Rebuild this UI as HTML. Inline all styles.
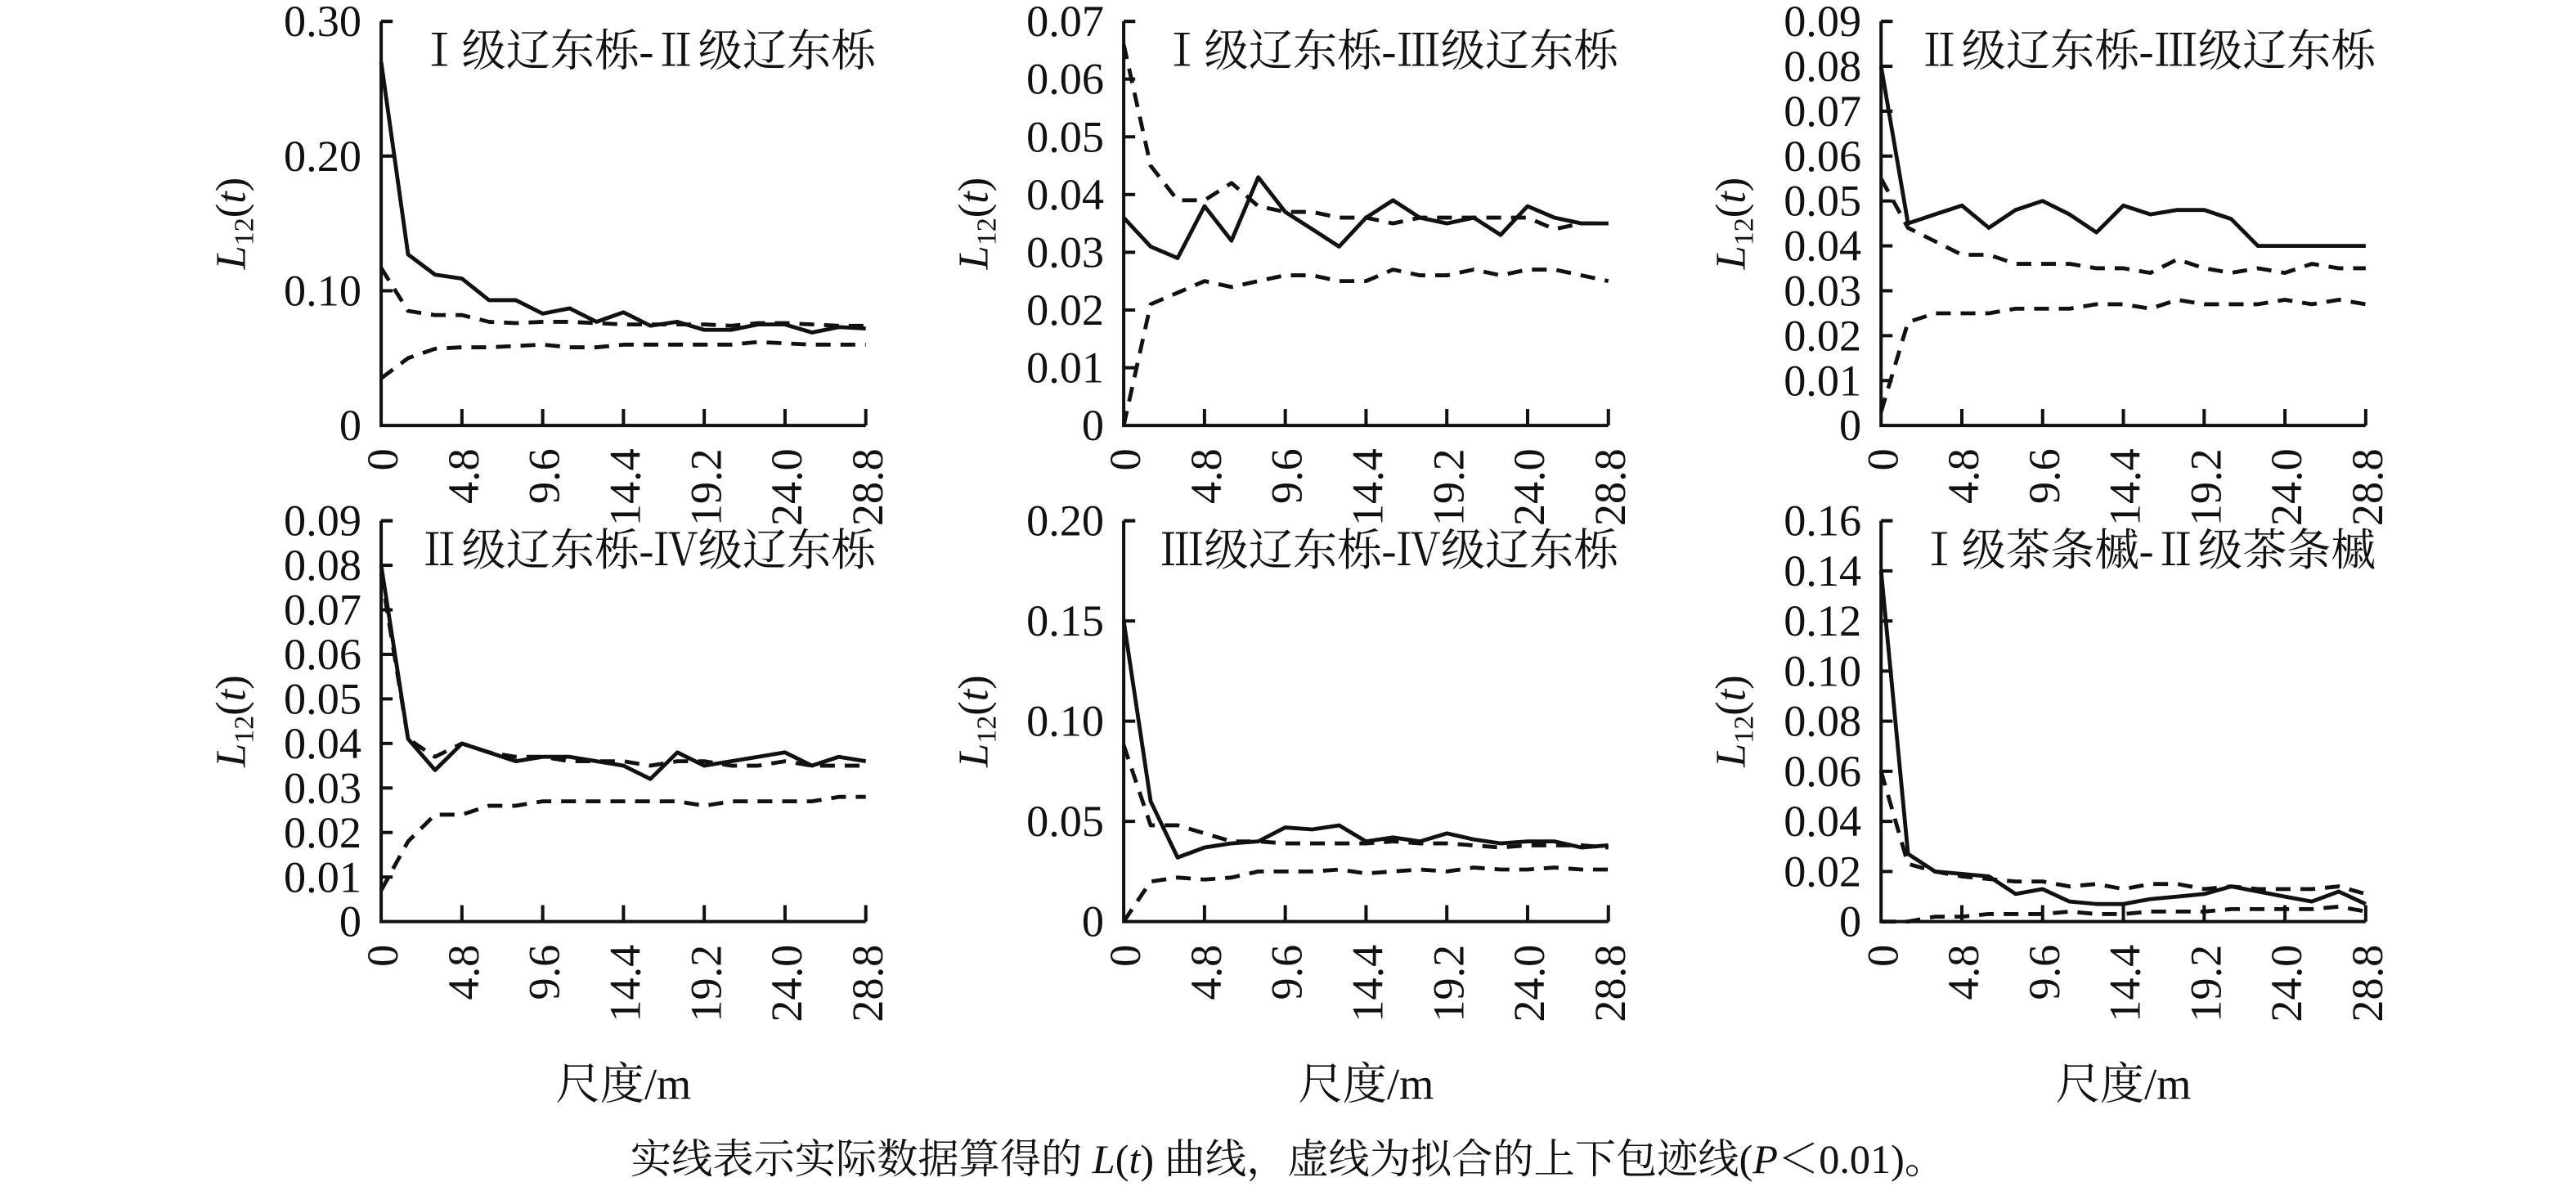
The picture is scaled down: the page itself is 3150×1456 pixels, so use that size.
<!DOCTYPE html>
<html><head><meta charset="utf-8">
<style>
html,body{margin:0;padding:0;background:#fff;}
svg{display:block;}
text{font-family:"Liberation Serif","Noto Serif CJK SC",serif;fill:#111;}
</style></head>
<body>
<svg id="s" width="3150" height="1456" viewBox="0 0 1568 725" preserveAspectRatio="none" xmlns="http://www.w3.org/2000/svg"></svg>
<script>
const P=[
{x:232,top:13,bot:259,max:0.30,ticks:[0,0.10,0.20,0.30],fmt:2,title:"Ⅰ级辽东栎-Ⅱ级辽东栎",
s:[0.27,0.127,0.112,0.109,0.093,0.093,0.083,0.087,0.077,0.084,0.074,0.077,0.071,0.071,0.075,0.075,0.069,0.073,0.072],
u:[0.117,0.085,0.082,0.082,0.077,0.076,0.077,0.077,0.076,0.075,0.075,0.075,0.075,0.074,0.076,0.076,0.075,0.074,0.074],
l:[0.035,0.05,0.057,0.058,0.058,0.059,0.06,0.058,0.058,0.06,0.06,0.06,0.06,0.06,0.062,0.061,0.06,0.06,0.06]},
{x:684,top:13,bot:259,max:0.07,ticks:[0,0.01,0.02,0.03,0.04,0.05,0.06,0.07],fmt:2,title:"Ⅰ级辽东栎-Ⅲ级辽东栎",
s:[0.036,0.031,0.029,0.038,0.032,0.043,0.037,0.034,0.031,0.036,0.039,0.036,0.035,0.036,0.033,0.038,0.036,0.035,0.035],
u:[0.066,0.045,0.039,0.039,0.042,0.038,0.037,0.037,0.036,0.036,0.035,0.036,0.036,0.036,0.036,0.036,0.034,0.035,0.035],
l:[0,0.021,0.023,0.025,0.024,0.025,0.026,0.026,0.025,0.025,0.027,0.026,0.026,0.027,0.026,0.027,0.027,0.026,0.025]},
{x:1145,top:13,bot:259,max:0.09,ticks:[0,0.01,0.02,0.03,0.04,0.05,0.06,0.07,0.08,0.09],fmt:2,title:"Ⅱ级辽东栎-Ⅲ级辽东栎",
s:[0.08,0.045,0.047,0.049,0.044,0.048,0.05,0.047,0.043,0.049,0.047,0.048,0.048,0.046,0.04,0.04,0.04,0.04,0.04],
u:[0.055,0.044,0.041,0.038,0.038,0.036,0.036,0.036,0.035,0.035,0.034,0.037,0.035,0.034,0.035,0.034,0.036,0.035,0.035],
l:[0.003,0.023,0.025,0.025,0.025,0.026,0.026,0.026,0.027,0.027,0.026,0.028,0.027,0.027,0.027,0.028,0.027,0.028,0.027]},
{x:232,top:317,bot:561,max:0.09,ticks:[0,0.01,0.02,0.03,0.04,0.05,0.06,0.07,0.08,0.09],fmt:2,title:"Ⅱ级辽东栎-Ⅳ级辽东栎",xl:1,
s:[0.08,0.041,0.034,0.04,0.038,0.036,0.037,0.037,0.036,0.035,0.032,0.038,0.035,0.036,0.037,0.038,0.035,0.037,0.036],
u:[0.078,0.041,0.037,0.04,0.038,0.037,0.037,0.036,0.036,0.036,0.035,0.036,0.036,0.035,0.035,0.036,0.035,0.035,0.035],
l:[0.007,0.018,0.024,0.024,0.026,0.026,0.027,0.027,0.027,0.027,0.027,0.027,0.026,0.027,0.027,0.027,0.027,0.028,0.028]},
{x:684,top:317,bot:561,max:0.20,ticks:[0,0.05,0.10,0.15,0.20],fmt:2,title:"Ⅲ级辽东栎-Ⅳ级辽东栎",xl:1,
s:[0.15,0.06,0.032,0.037,0.039,0.04,0.047,0.046,0.048,0.04,0.042,0.04,0.044,0.041,0.039,0.04,0.04,0.037,0.038],
u:[0.088,0.048,0.048,0.044,0.04,0.04,0.039,0.039,0.039,0.039,0.04,0.039,0.039,0.038,0.037,0.038,0.038,0.038,0.037],
l:[0,0.02,0.022,0.021,0.022,0.025,0.025,0.025,0.026,0.024,0.025,0.026,0.025,0.027,0.026,0.026,0.027,0.026,0.026]},
{x:1145,top:317,bot:561,max:0.16,ticks:[0,0.02,0.04,0.06,0.08,0.10,0.12,0.14,0.16],fmt:2,title:"Ⅰ级茶条槭-Ⅱ级茶条槭",xl:1,
s:[0.14,0.027,0.02,0.019,0.018,0.011,0.013,0.008,0.007,0.007,0.009,0.01,0.011,0.014,0.012,0.01,0.008,0.012,0.007],
u:[0.06,0.023,0.02,0.018,0.017,0.016,0.016,0.014,0.015,0.013,0.015,0.015,0.013,0.014,0.013,0.013,0.013,0.014,0.011],
l:[0,0,0.002,0.002,0.003,0.003,0.003,0.004,0.003,0.003,0.004,0.004,0.004,0.005,0.005,0.005,0.005,0.006,0.004]}
];
let h="";const W=295;
for(const p of P){
 const X=i=>p.x+W*i/18, Y=v=>p.bot-(p.bot-p.top)*v/p.max;
 h+=`<path d="M${p.x} ${p.top}H${p.x+7}M${p.x} ${p.top}V${p.bot}H${p.x+W}" fill="none" stroke="#111" stroke-width="2"/>`;
 for(const t of p.ticks){const y=Y(t);
  if(t>0)h+=`<line x1="${p.x}" y1="${y}" x2="${p.x+7}" y2="${y}" stroke="#111" stroke-width="2"/>`;
  h+=`<text x="${p.x-12}" y="${y+9}" font-size="27" text-anchor="end">${t==0?"0":t.toFixed(p.fmt)}</text>`;}
 const xl=["0","4.8","9.6","14.4","19.2","24.0","28.8"];
 for(let k=0;k<7;k++){const x=p.x+W*k/6;
  if(k>0)h+=`<line x1="${x}" y1="${p.bot}" x2="${x}" y2="${p.bot-10}" stroke="#111" stroke-width="2"/>`;
  h+=`<text transform="translate(${x+10},${p.bot+14}) rotate(-90)" font-size="27" text-anchor="end">${xl[k]}</text>`;}
 if(p.xl)h+=`<text x="${p.x+W/2}" y="${p.bot+108}" font-size="27" text-anchor="middle">尺度/m</text>`;
 const yc=(p.top+p.bot)/2;
 h+=`<text transform="translate(${p.x-83},${yc}) rotate(-90)" font-size="26" text-anchor="middle" font-style="italic">L<tspan font-size="17" font-style="normal" dy="5">12</tspan><tspan dy="-5" font-style="normal">(</tspan>t<tspan font-style="normal">)</tspan></text>`;
 h+=`<text x="${p.x+22}" y="${p.top+27}" font-size="27">${p.title}</text>`;
 const line=(a,d)=>`<polyline points="${a.map((v,i)=>X(i).toFixed(1)+","+Y(v).toFixed(1)).join(" ")}" fill="none" stroke="#111" stroke-width="2.4" ${d?'stroke-dasharray="9,6"':''} stroke-linejoin="round"/>`;
 h+=line(p.u,1)+line(p.l,1)+line(p.s,0);
}
h+=`<text x="784" y="714" font-size="25" text-anchor="middle">实线表示实际数据算得的 <tspan font-style="italic">L</tspan>(<tspan font-style="italic">t</tspan>) 曲线，虚线为拟合的上下包迹线(<tspan font-style="italic">P</tspan>＜0.01)。</text>`;
document.getElementById("s").innerHTML=h;
</script>
</body></html>
